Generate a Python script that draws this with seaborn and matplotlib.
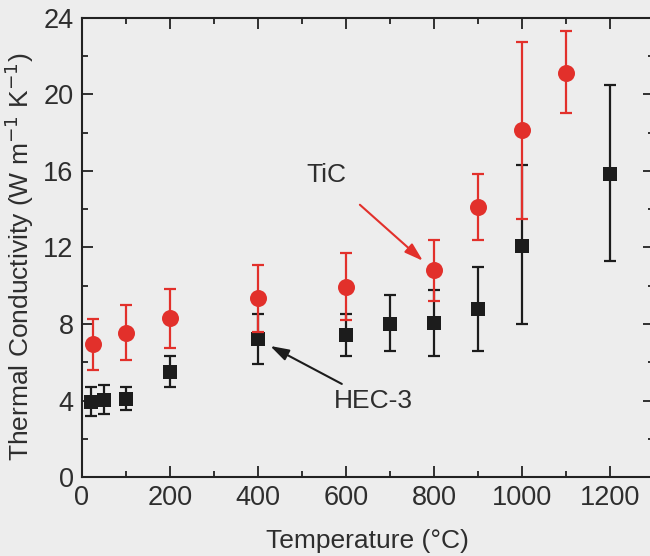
import matplotlib
matplotlib.use("Agg")
import matplotlib.pyplot as plt
import pandas as pd
import seaborn as sns
from matplotlib.ticker import MultipleLocator

# TiC (red circles)
tic_t = [25, 100, 200, 400, 600, 800, 900, 1000, 1100]
tic_k = [6.95, 7.55, 8.3, 9.35, 9.95, 10.8, 14.1, 18.15, 21.1]
tic_hi = [8.25, 9.0, 9.85, 11.1, 11.7, 12.4, 15.85, 22.75, 23.3]
tic_lo = [5.6, 6.1, 6.75, 7.6, 8.2, 9.2, 12.4, 13.5, 19.0]

# HEC-3 (black squares)
hec_t = [20, 50, 100, 200, 400, 600, 700, 800, 900, 1000, 1200]
hec_k = [3.9, 4.05, 4.1, 5.5, 7.2, 7.4, 8.0, 8.05, 8.8, 12.1, 15.85]
hec_hi = [4.7, 4.8, 4.7, 6.3, 8.5, 8.5, 9.5, 9.8, 11.0, 16.3, 20.5]
hec_lo = [3.2, 3.3, 3.5, 4.7, 5.9, 6.3, 6.6, 6.3, 6.6, 8.0, 11.3]

RED = "#e2302b"
BLACK = "#1c1c1c"
BG = "#ededed"
TXT = "#2e2e2e"

sns.set_theme(style="ticks")
plt.rcParams["font.family"] = ["Liberation Sans", "DejaVu Sans"]

fig = plt.figure(figsize=(6.5, 5.56), dpi=100, facecolor=BG)
ax = fig.add_axes([0.126, 0.142, 0.88, 0.826], facecolor=BG)

hec = pd.DataFrame({"T": hec_t, "k": hec_k})
tic = pd.DataFrame({"T": tic_t, "k": tic_k})

# error bars + markers, HEC-3 underneath
ax.errorbar(hec_t, hec_k,
            yerr=[[k - lo for k, lo in zip(hec_k, hec_lo)],
                  [hi - k for k, hi in zip(hec_k, hec_hi)]],
            fmt="none", ecolor=BLACK, elinewidth=1.6, capsize=4, capthick=1.6, zorder=2)
sns.scatterplot(data=hec, x="T", y="k", marker="s", s=110, color=BLACK,
                edgecolor=BLACK, linewidth=0, ax=ax, zorder=3)

ax.errorbar(tic_t, tic_k,
            yerr=[[k - lo for k, lo in zip(tic_k, tic_lo)],
                  [hi - k for k, hi in zip(tic_k, tic_hi)]],
            fmt="none", ecolor=RED, elinewidth=1.6, capsize=4, capthick=1.6, zorder=4)
sns.scatterplot(data=tic, x="T", y="k", marker="o", s=150, color=RED,
                edgecolor=RED, linewidth=0, ax=ax, zorder=5)

# annotations
arrow = dict(arrowstyle="-|>,head_length=0.7,head_width=0.22", lw=1.5, shrinkB=0,
             mutation_scale=16)
ax.annotate("TiC", xy=(775, 11.3), xytext=(555, 15.8), fontsize=19, color=TXT,
            ha="center", va="center",
            arrowprops=dict(arrow, color=RED, shrinkA=16))
ax.annotate("HEC-3", xy=(428, 6.85), xytext=(572, 4.0), fontsize=19, color=TXT,
            ha="left", va="center",
            arrowprops=dict(arrow, color=BLACK, shrinkA=2))

ax.set_xlim(0, 1300)
ax.set_ylim(0, 24)
ax.xaxis.set_major_locator(MultipleLocator(200))
ax.xaxis.set_minor_locator(MultipleLocator(100))
ax.yaxis.set_major_locator(MultipleLocator(4))
ax.yaxis.set_minor_locator(MultipleLocator(2))
ax.tick_params(which="both", direction="in", top=True, right=True, color="#222222",
               width=1.3, labelsize=19.5, labelcolor=TXT, pad=6)
ax.tick_params(which="major", length=8)
ax.tick_params(which="minor", length=4)
for sp in ax.spines.values():
    sp.set_linewidth(1.5)
    sp.set_color("#222222")

ax.set_xlabel("Temperature (\u00b0C)", fontsize=19, color=TXT, labelpad=13)
ax.set_ylabel("Thermal Conductivity (W m$^{-1}$ K$^{-1}$)", fontsize=19, color=TXT,
              labelpad=5)
ax.yaxis.label.set_y(0.48)

fig.savefig("out.png", dpi=100, facecolor=BG)
